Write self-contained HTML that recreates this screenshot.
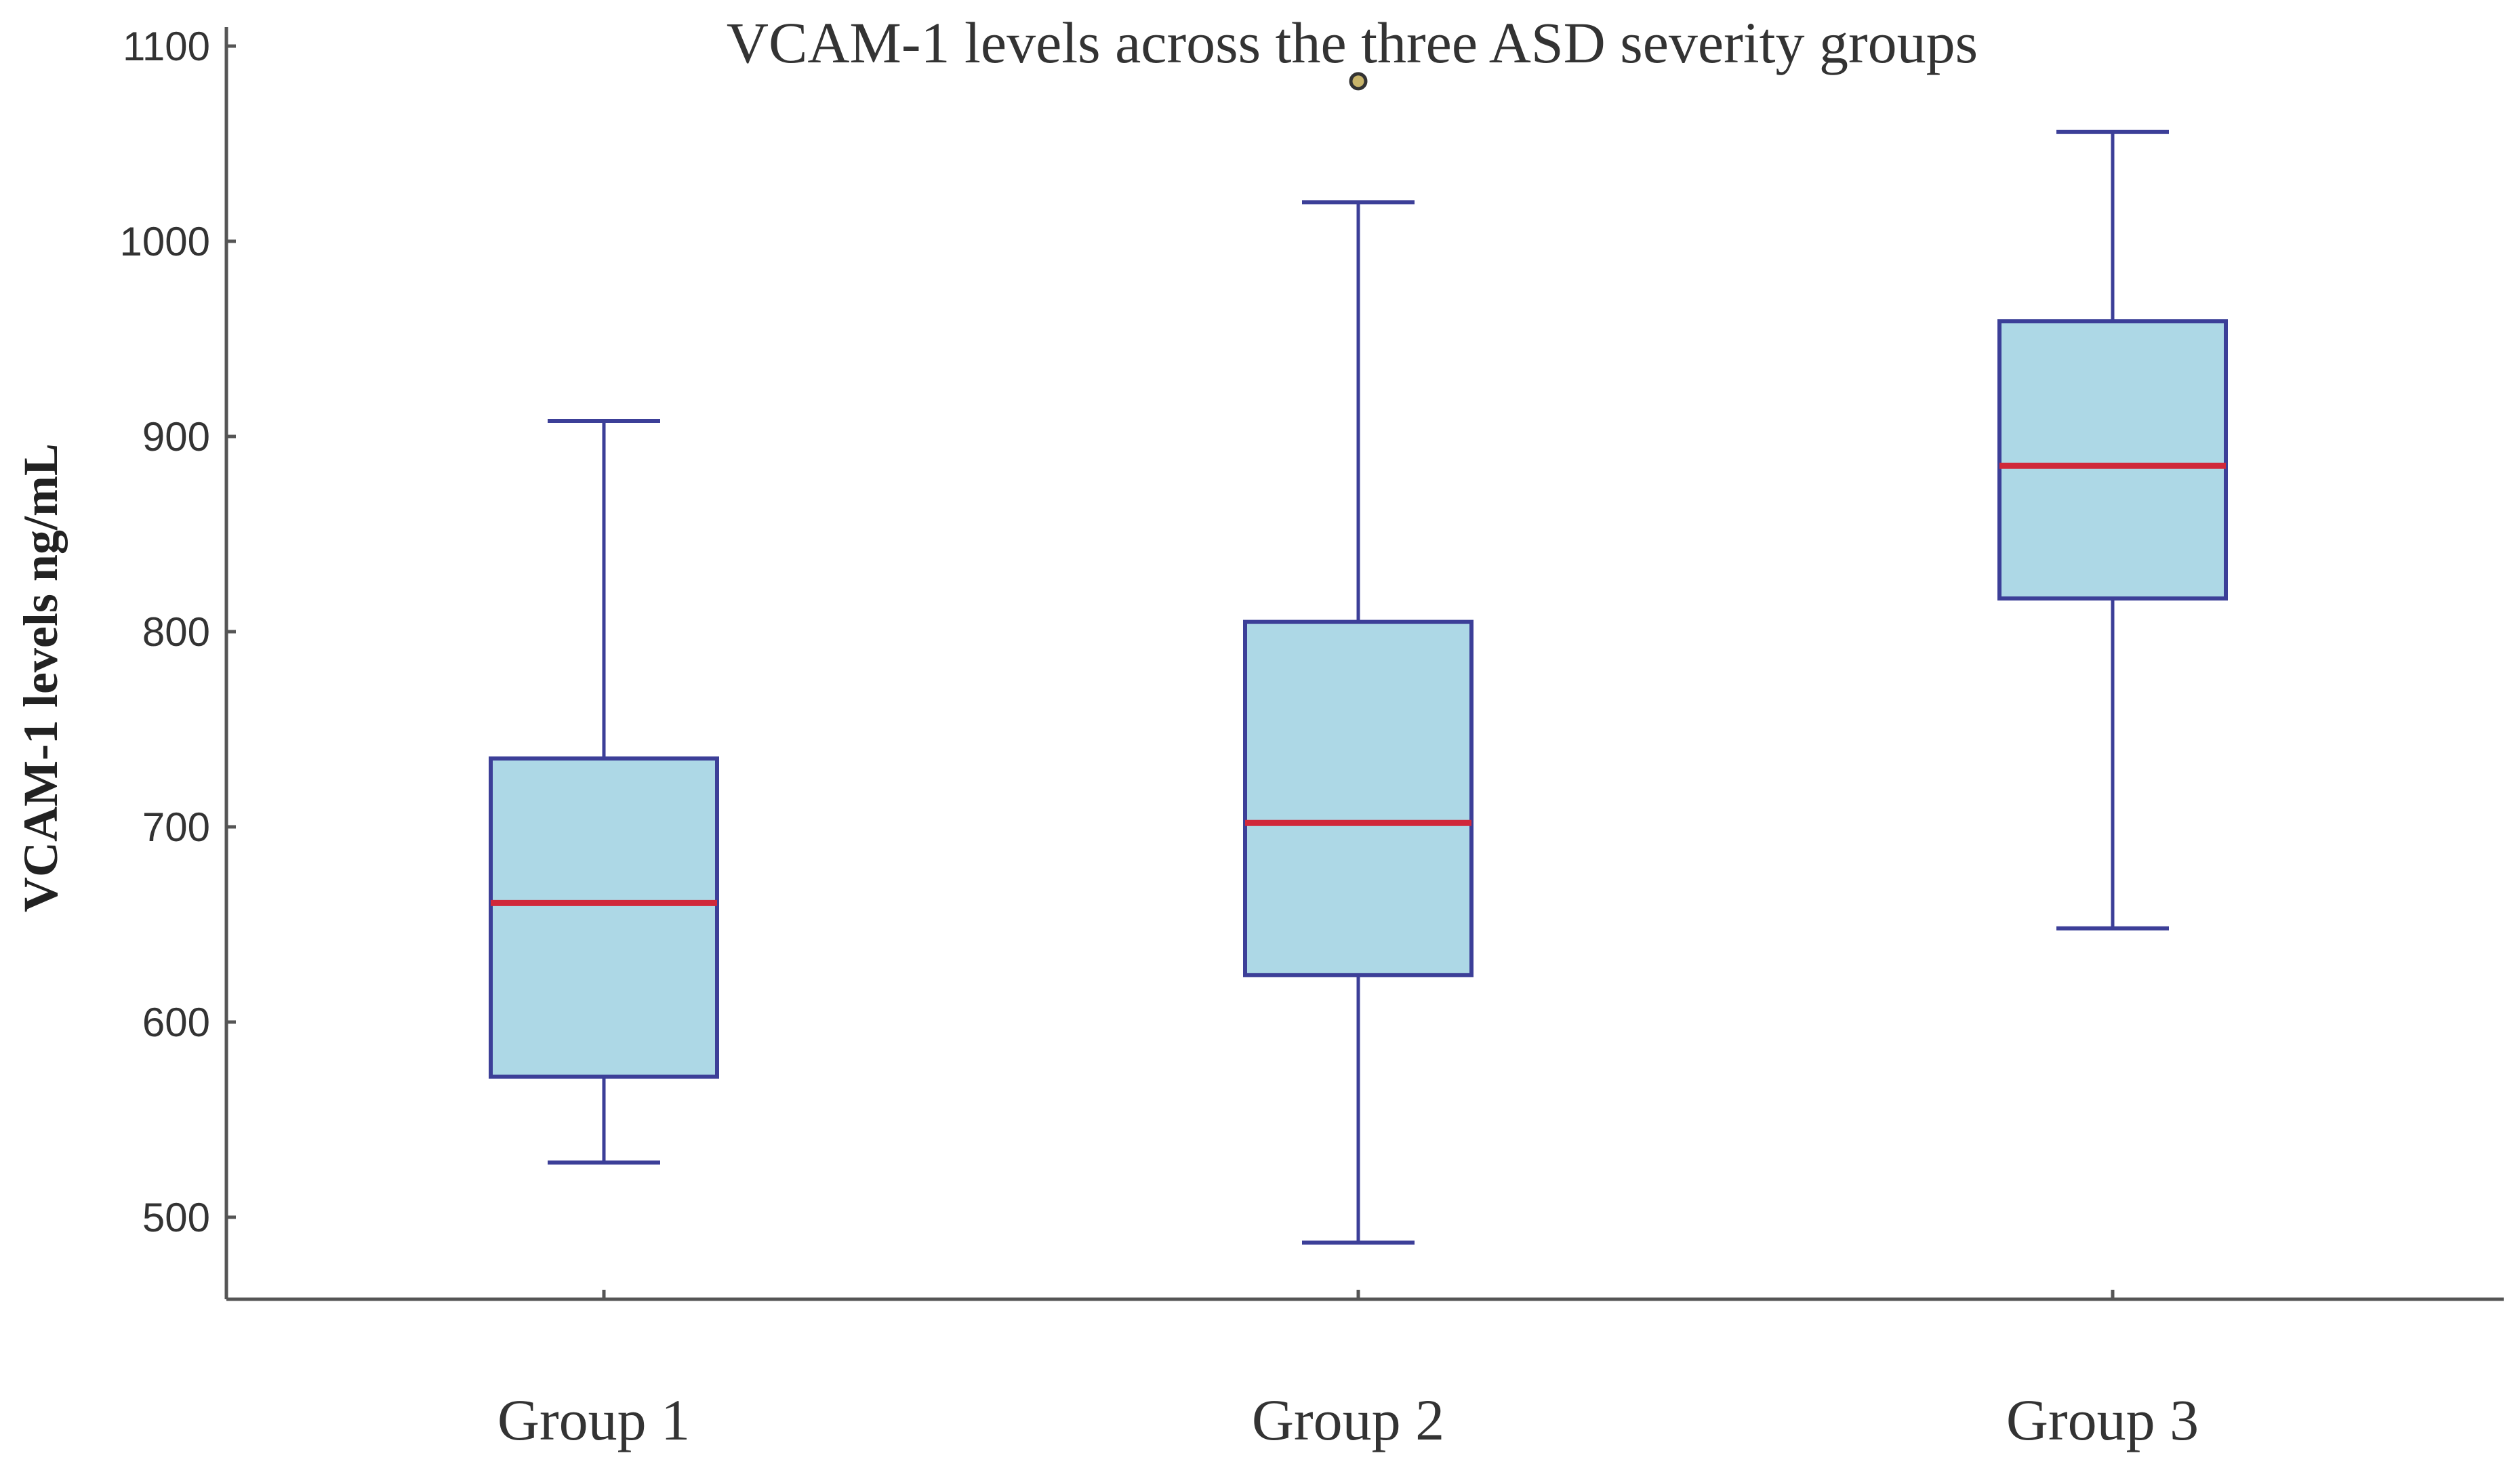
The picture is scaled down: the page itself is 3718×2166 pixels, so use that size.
<!DOCTYPE html>
<html><head><meta charset="utf-8"><style>
html,body{margin:0;padding:0;background:#fff;}
svg{display:block;}
</style></head><body>
<svg id="chart" width="3718" height="2166" viewBox="0 0 3718 2166" xmlns="http://www.w3.org/2000/svg">
<text x="1995" y="92" text-anchor="middle" font-family="Liberation Serif, serif" font-size="86" fill="#333">VCAM-1 levels across the three ASD severity groups</text>
<text transform="translate(84,1000) rotate(-90)" text-anchor="middle" font-family="Liberation Serif, serif" font-weight="bold" font-size="72" fill="#222">VCAM-1 levels ng/mL</text>
<g id="axes"></g>
<g id="marks"></g>
</svg>
<script>
const categories = ["Group 1","Group 2","Group 3"];
const whiskerLow = [528, 487, 648];
const q1 = [572, 624, 817];
const medians = [661, 702, 885];
const q3 = [735, 805, 959];
const whiskerHigh = [908, 1020, 1056];
const outliers = [[], [1082], []];
const yTicks = [500, 600, 700, 800, 900, 1000, 1100];

const NS = "http://www.w3.org/2000/svg";
const axisX = 334, axisBottom = 1917, axisRight = 3694;
function y(v){ return 1796 - (v - 500) * 2.88; }
function x(i){ return 891 + i * 1113; }
const boxHalf = 167, capHalf = 83;
const navy = "#3c3f98";

function mk(tag, attrs, parent){
  const e = document.createElementNS(NS, tag);
  for (const k in attrs) e.setAttribute(k, attrs[k]);
  parent.appendChild(e);
  return e;
}
const axes = document.getElementById("axes");
const marks = document.getElementById("marks");

let el = mk("line", {x1: axisX, y1: 40, x2: axisX, y2: axisBottom, stroke: "#555", "stroke-width": 5}, axes);


el = mk("line", {x1: axisX, y1: axisBottom, x2: axisRight, y2: axisBottom, stroke: "#555", "stroke-width": 5}, axes);



yTicks.forEach(t => {
  const tk = mk("line", {x1: axisX, y1: y(t), x2: axisX + 14, y2: y(t), stroke: "#555", "stroke-width": 5}, axes);
  
  
  const lb = mk("text", {x: 310, y: y(t) + 21, "text-anchor": "end", "font-family": "Liberation Sans, sans-serif", "font-size": 60, fill: "#333"}, axes);
  lb.textContent = t;
  
  
});

categories.forEach((c, i) => {
  const cx = x(i);
  const tk = mk("line", {x1: cx, y1: axisBottom, x2: cx, y2: axisBottom - 14, stroke: "#555", "stroke-width": 5}, axes);
  
  
  const lb = mk("text", {x: cx - 15, y: 2124, "text-anchor": "middle", "font-family": "Liberation Serif, serif", "font-size": 86, fill: "#333"}, axes);
  lb.textContent = c;
  
  

  const g = mk("g", {}, marks);
  
  
  const w1 = mk("line", {x1: cx, y1: y(whiskerHigh[i]), x2: cx, y2: y(q3[i]), stroke: navy, "stroke-width": 5}, g);
  
  
  const w2 = mk("line", {x1: cx, y1: y(q1[i]), x2: cx, y2: y(whiskerLow[i]), stroke: navy, "stroke-width": 5}, g);
  
  
  const c1 = mk("line", {x1: cx - capHalf, y1: y(whiskerHigh[i]), x2: cx + capHalf, y2: y(whiskerHigh[i]), stroke: navy, "stroke-width": 6}, g);
  
  
  const c2 = mk("line", {x1: cx - capHalf, y1: y(whiskerLow[i]), x2: cx + capHalf, y2: y(whiskerLow[i]), stroke: navy, "stroke-width": 6}, g);
  
  
  const b = mk("rect", {x: cx - boxHalf, y: y(q3[i]), width: boxHalf * 2, height: y(q1[i]) - y(q3[i]), fill: "#add8e6", stroke: navy, "stroke-width": 6}, g);
  
  
  const m = mk("line", {x1: cx - boxHalf, y1: y(medians[i]), x2: cx + boxHalf, y2: y(medians[i]), stroke: "#d0283a", "stroke-width": 9}, g);
  
  
  outliers[i].forEach(v => {
    const o = mk("circle", {cx: cx, cy: y(v), r: 11, fill: "#c8b46a", stroke: "#333", "stroke-width": 5}, g);
    
    
  });
});
</script>
</body></html>
